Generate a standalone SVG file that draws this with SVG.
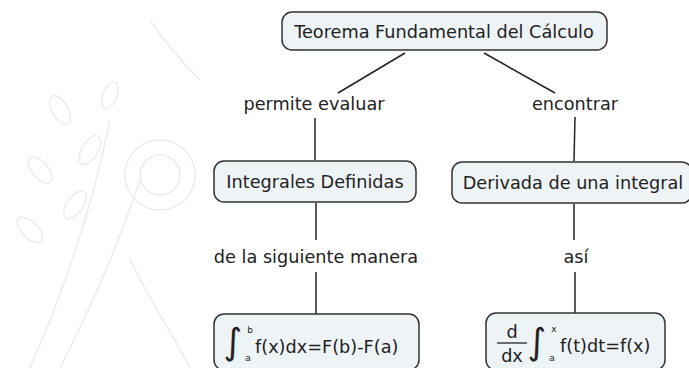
<svg xmlns="http://www.w3.org/2000/svg" width="689" height="368" viewBox="0 0 689 368">
<style>
.box{fill:#eef3f6;stroke:#333;stroke-width:1.5}
.t{font-family:"DejaVu Sans",Verdana,sans-serif;font-size:17.7px;fill:#222;text-anchor:middle}
.f{font-family:"DejaVu Sans",Verdana,sans-serif;font-size:17.7px;fill:#222}
.s{font-family:"DejaVu Sans",Verdana,sans-serif;font-size:9px;fill:#222;text-anchor:middle}
.m{font-family:"DejaVu Sans",Verdana,sans-serif;font-size:36px;fill:#222;text-anchor:middle}
.c{stroke:#222;stroke-width:1.5;fill:none}
.w{fill:none;stroke:#ececec;stroke-width:1.5}
</style>
<rect width="689" height="368" fill="#fff"/>
<g id="watermark">
<path class="w" d="M30,368 C60,300 90,220 110,120"/>
<path class="w" d="M60,368 C95,300 120,240 140,180"/>
<ellipse class="w" cx="60" cy="110" rx="8" ry="16" transform="rotate(-30 60 110)"/>
<ellipse class="w" cx="90" cy="150" rx="8" ry="16" transform="rotate(30 90 150)"/>
<ellipse class="w" cx="40" cy="170" rx="8" ry="16" transform="rotate(-40 40 170)"/>
<ellipse class="w" cx="75" cy="205" rx="8" ry="16" transform="rotate(35 75 205)"/>
<ellipse class="w" cx="30" cy="230" rx="8" ry="16" transform="rotate(-45 30 230)"/>
<ellipse class="w" cx="110" cy="95" rx="7" ry="14" transform="rotate(20 110 95)"/>
<circle class="w" cx="160" cy="175" r="35"/>
<circle class="w" cx="160" cy="175" r="20"/>
<path class="w" d="M150,20 C170,50 190,70 200,80"/>
<path class="w" d="M130,260 C150,300 170,330 190,368"/>
</g>
<g id="connectors">
<line class="c" x1="405" y1="53" x2="338" y2="93"/>
<line class="c" x1="484" y1="53" x2="555" y2="93"/>
<line class="c" x1="315" y1="118" x2="315" y2="160"/>
<line class="c" x1="575" y1="117" x2="574" y2="161"/>
<line class="c" x1="316" y1="203" x2="316" y2="240"/>
<line class="c" x1="316" y1="272" x2="316" y2="314"/>
<line class="c" x1="574" y1="204" x2="574" y2="240"/>
<line class="c" x1="575" y1="272" x2="575" y2="313"/>
<text class="t" x="314" y="110">permite evaluar</text>
<text class="t" x="575" y="110">encontrar</text>
<text class="t" x="316" y="263">de la siguiente manera</text>
<text class="t" x="576" y="263">así</text>
</g>
<g id="n-teorema">
<rect class="box" x="282" y="12" width="325" height="38" rx="10"/>
<text class="t" x="444" y="38">Teorema Fundamental del Cálculo</text>
</g>
<g id="n-integrales">
<rect class="box" x="214" y="161" width="202" height="41" rx="10"/>
<text class="t" x="315" y="188">Integrales Definidas</text>
</g>
<g id="n-derivada">
<rect class="box" x="452" y="162" width="240" height="41" rx="10"/>
<text class="t" x="573" y="189">Derivada de una integral</text>
</g>
<g id="n-formula1">
<rect class="box" x="214" y="314" width="205" height="56" rx="10"/>
<text class="m" x="233" y="354">∫</text>
<text class="s" x="250" y="333">b</text>
<text class="s" x="248" y="361">a</text>
<text class="f" x="255" y="353">f(x)dx=F(b)-F(a)</text>
</g>
<g id="n-formula2">
<rect class="box" x="486" y="313" width="179" height="57" rx="10"/>
<text class="t" x="512" y="338">d</text>
<line x1="497" y1="343" x2="527" y2="343" stroke="#222" stroke-width="1.3"/>
<text class="t" x="512" y="362">dx</text>
<text class="m" x="537" y="354">∫</text>
<text class="s" x="554" y="332">x</text>
<text class="s" x="552" y="361">a</text>
<text class="f" x="560" y="352">f(t)dt=f(x)</text>
</g>
</svg>
